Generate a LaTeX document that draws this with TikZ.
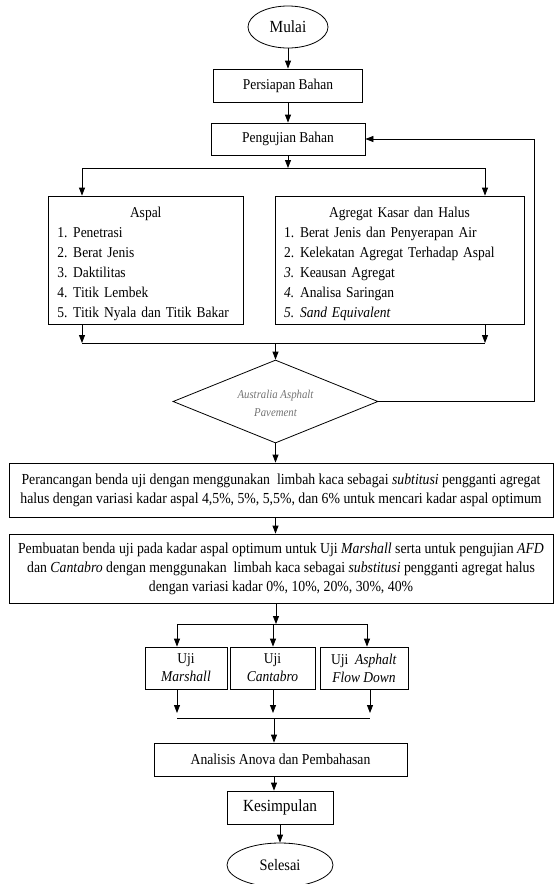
\documentclass[tikz,border=0pt]{standalone}
\usepackage{fontspec}
\setmainfont[FakeStretch=0.9]{Liberation Serif}
\usetikzlibrary{shapes.geometric,arrows.meta}
\begin{document}
\begin{tikzpicture}[x=1pt,y=-1pt,
  line width=0.8pt,
  box/.style={draw, rectangle, inner sep=0pt, align=center},
  oval/.style={draw, ellipse, inner sep=0pt},
  arr/.style={-{Triangle[length=8pt,width=6pt]}},
  every node/.style={font=\fontsize{15}{17}\selectfont}]
\useasboundingbox (0,0) rectangle (554,884);

% top
\node[oval, minimum width=80pt, minimum height=42pt, font=\fontsize{17}{19}\selectfont] (mulai) at (288,27) {Mulai};
\node[box, minimum width=149pt, minimum height=33pt] (persiapan) at (288,85.5) {Persiapan Bahan};
\node[box, minimum width=154pt, minimum height=32pt] (pengujian) at (288,139) {Pengujian Bahan};
\draw[arr] (mulai) -- (persiapan);
\draw[arr] (persiapan) -- (pengujian);

% two test boxes
\node[box, minimum width=195.5pt, minimum height=128pt, text width=177pt, align=left,
      font=\fontsize{15}{20}\selectfont] (aspal) at (145.75,260)
  {\rule{0pt}{19pt}\makebox[177pt]{Aspal}\\
   \makebox[16pt][l]{1.}Penetrasi\\
   \makebox[16pt][l]{2.}Berat Jenis\\
   \makebox[16pt][l]{3.}Daktilitas\\
   \makebox[16pt][l]{4.}Titik Lembek\\
   \makebox[16pt][l]{5.}Titik Nyala dan Titik Bakar};
\node[box, minimum width=249pt, minimum height=128pt, text width=231pt, align=left,
      font=\fontsize{15}{20}\selectfont] (agregat) at (399.5,260)
  {\rule{0pt}{19pt}\makebox[231pt]{Agregat Kasar dan Halus}\\
   \makebox[16pt][l]{1.}Berat Jenis dan Penyerapan Air\\
   \makebox[16pt][l]{2.}Kelekatan Agregat Terhadap Aspal\\
   \makebox[16pt][l]{\textit{3.}}Keausan Agregat\\
   \makebox[16pt][l]{\textit{4.}}Analisa Saringan\\
   \makebox[16pt][l]{\textit{5.}}\textit{Sand Equivalent}};

\coordinate (split) at (288,168);
\coordinate (splitL) at (82,168);
\coordinate (splitR) at (485,168);
\draw[arr] (pengujian.south) -- (split);
\draw (splitL) -- (splitR);
\draw[arr] (splitL) -- (splitL |- aspal.north);
\draw[arr] (splitR) -- (splitR |- agregat.north);

\coordinate (mergeL) at (82,343);
\coordinate (mergeR) at (485,343);
\draw[arr] (mergeL |- aspal.south) -- (mergeL);
\draw[arr] (mergeR |- agregat.south) -- (mergeR);
\draw (mergeL) -- (mergeR);

% decision
\node[draw, diamond, aspect=2.47, inner sep=0pt, minimum width=205pt, minimum height=83pt,
      align=center, text=black!55, font=\itshape\fontsize{12}{18}\selectfont]
      (aap) at (275.5,401.5) {\rule{0pt}{13pt}Australia Asphalt\\Pavement};
\draw[arr] (aap.north |- mergeL) -- (aap.north);
\coordinate (fb) at (534,401.5);
\draw[arr] (aap.east) -- (fb) |- (pengujian.east);

% wide boxes
\node[box, minimum width=544pt, minimum height=54pt, font=\fontsize{15.3}{19}\selectfont]
  (rancang) at (281,490)
  {Perancangan benda uji dengan menggunakan \ limbah kaca sebagai \textit{subtitusi} pengganti agregat\\
   halus dengan variasi kadar aspal 4,5\%, 5\%, 5,5\%, dan 6\% untuk mencari kadar aspal optimum};
\node[box, minimum width=544pt, minimum height=69pt, font=\fontsize{15.3}{19}\selectfont]
  (buat) at (281,568.5)
  {Pembuatan benda uji pada kadar aspal optimum untuk Uji \textit{Marshall} serta untuk pengujian \textit{AFD}\\
   dan \textit{Cantabro} dengan menggunakan \ limbah kaca sebagai \textit{substitusi} pengganti agregat halus\\
   dengan variasi kadar 0\%, 10\%, 20\%, 30\%, 40\%};
\draw[arr] (aap.south) -- (aap.south |- rancang.north);
\draw[arr] (aap.south |- rancang.south) -- (aap.south |- buat.north);

% three tests
\node[box, minimum width=82pt, minimum height=42pt, font=\fontsize{15}{18}\selectfont]
  (marshall) at (186,668) {Uji\\\textit{Marshall}};
\node[box, minimum width=85pt, minimum height=42pt, font=\fontsize{15}{18}\selectfont]
  (cantabro) at (272.5,668) {Uji\\\textit{Cantabro}};
\node[box, minimum width=88pt, minimum height=42pt, font=\fontsize{15}{18}\selectfont]
  (afd) at (364,668) {Uji \ \textit{Asphalt}\\\textit{Flow Down}};

\coordinate (s2) at (276,624);
\coordinate (s2L) at (177,624);
\coordinate (s2M) at (273,624);
\coordinate (s2R) at (367,624);
\draw[arr] (s2 |- buat.south) -- (s2);
\draw (s2L) -- (s2R);
\draw[arr] (s2L) -- (s2L |- marshall.north);
\draw[arr] (s2M) -- (s2M |- cantabro.north);
\draw[arr] (s2R) -- (s2R |- afd.north);

\coordinate (tL) at (177,713);
\coordinate (tM) at (273,713);
\coordinate (tR) at (370,713);
\coordinate (m2L) at (177,718);
\coordinate (m2) at (274,718);
\coordinate (m2R) at (370,718);
\draw[arr] (tL |- marshall.south) -- (tL);
\draw[arr] (tM |- cantabro.south) -- (tM);
\draw[arr] (tR |- afd.south) -- (tR);
\draw (m2L) -- (m2R);

% bottom
\node[box, minimum width=253pt, minimum height=33pt, font=\fontsize{15.2}{17}\selectfont] (analisis) at (280.5,759.5) {Analisis Anova dan Pembahasan};
\node[box, minimum width=106pt, minimum height=33pt, font=\fontsize{17}{19}\selectfont] (kesimpulan) at (280,807.5) {Kesimpulan};
\node[oval, minimum width=106pt, minimum height=44pt, font=\fontsize{16}{18}\selectfont] (selesai) at (280,865) {Selesai};
\draw[arr] (m2) -- (m2 |- analisis.north);
\draw[arr] (m2 |- analisis.south) -- (m2 |- kesimpulan.north);
\draw[arr] (kesimpulan.south) -- (selesai.north);
\end{tikzpicture}
\end{document}
